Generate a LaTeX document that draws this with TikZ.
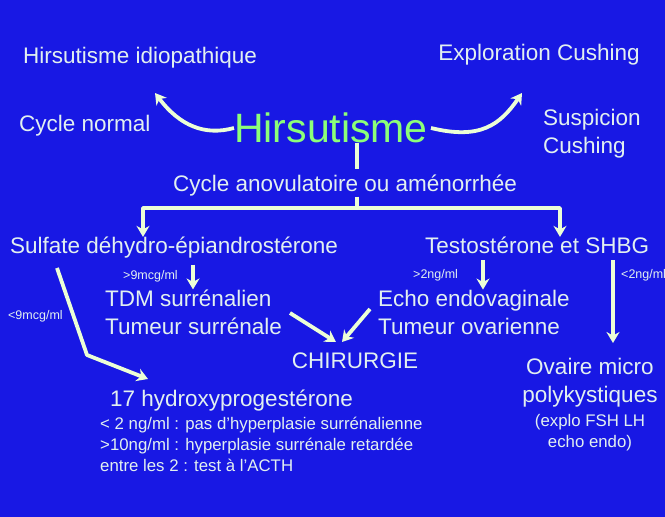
\documentclass[tikz,border=0pt]{standalone}
\usepackage{fontspec}
\setmainfont{Liberation Sans}
\usetikzlibrary{arrows.meta}
\definecolor{bg}{RGB}{24,24,228}
\definecolor{txt}{RGB}{226,240,240}
\definecolor{arr}{RGB}{236,255,214}
\definecolor{grn}{RGB}{140,255,120}
\begin{document}
\begin{tikzpicture}[x=1pt,y=-1pt,
  lbl/.style={text=txt,inner sep=0pt,font=\fontsize{22.5}{28}\selectfont},
  sml/.style={text=txt,inner sep=0pt,font=\fontsize{12.5}{14}\selectfont},
  note/.style={text=txt,inner sep=0pt,font=\fontsize{16.8}{21}\selectfont},
  con/.style={draw=arr,line width=3.8pt,line join=round,-{Stealth[length=11pt,width=13pt]}},
  bar/.style={draw=arr,line width=3.8pt}]
\fill[bg] (0,0) rectangle (665,517);
\useasboundingbox (0,0) rectangle (665,517);
% texts
\node[lbl,anchor=mid west] (idio) at (23,61) {Hirsutisme idiopathique};
\node[lbl,anchor=mid east] (expl) at (640,58) {Exploration Cushing};
\node[lbl,anchor=mid west] (cnorm) at (19,129) {Cycle normal};
\node[lbl,anchor=west,align=left] (susp) at (543,134) {Suspicion\\Cushing};
\node[text=grn,inner sep=0pt,font=\fontsize{41}{48}\selectfont,anchor=mid] (hir) at (331,140) {Hirsutisme};
\node[lbl,anchor=mid] (cyc) at (345,189) {Cycle anovulatoire ou aménorrhée};
\node[lbl,anchor=mid west] (sulf) at (10,251) {Sulfate déhydro-épiandrostérone};
\node[lbl,anchor=mid west] (testo) at (425,251) {Testostérone et SHBG};
\node[sml,anchor=mid west] (g9) at (123,277) {>9mcg/ml};
\node[sml,anchor=mid west] (l9) at (8,317) {<9mcg/ml};
\node[sml,anchor=mid west] (g2) at (413,276) {>2ng/ml};
\node[sml,anchor=mid west] (l2) at (621,276) {<2ng/ml};
\node[lbl,anchor=west,align=left] (tdm) at (105,312) {TDM surrénalien\\Tumeur surrénale};
\node[lbl,anchor=west,align=left] (echo) at (378,312) {Echo endovaginale\\Tumeur ovarienne};
\node[lbl,anchor=mid] (chir) at (355,366) {CHIRURGIE};
\node[lbl,anchor=mid west] (hydro) at (110,404) {17 hydroxyprogestérone};
\node[note,anchor=north west,align=left] (det) at (100,417) {< 2 ng/ml : pas d'hyperplasie surrénalienne\\>10ng/ml : hyperplasie surrénale retardée\\entre les 2 : test à l'ACTH};
\node[lbl,anchor=north,align=center] (ovai) at (590,358) {Ovaire micro\\polykystiques};
\node[note,anchor=north,align=center] (expf) at (590,414) {(explo FSH LH\\echo endo)};
% helper coordinates
\coordinate (lt) at (155,93);
\coordinate (rt) at (522,93);
\coordinate (vx) at (357,0);
\coordinate (jn) at (357,208);
\coordinate (xa) at (143,0);
\coordinate (xb) at (560,0);
\coordinate (x1) at (193,0);
\coordinate (x2) at (483,0);
\coordinate (x3) at (613,0);
\coordinate (s1) at (57,268);
\coordinate (bend) at (87,355);
\coordinate (h1) at (148,379);
\coordinate (t1) at (290,313);
\coordinate (t2) at (370,309);
\coordinate (c1) at (336,342);
\coordinate (c2) at (342,342);
\coordinate (o1) at (613,343);
% connectors
\draw[con] (hir.west) .. controls (205,136) and (180,126) .. (lt);
\draw[con] (hir.east) ++(3,0) .. controls (480,140) and (500,125) .. (rt);
\draw[bar,shorten >=6pt] (hir.south -| vx) -- (cyc.north -| vx);
\draw[bar] (cyc.south -| vx) -- (jn);
\draw[con] (jn) -- (jn -| xa) -- (sulf.north -| xa);
\draw[con] (jn) -- (jn -| xb) -- (testo.north -| xb);
\draw[con,shorten <=6pt] (sulf.south -| x1) -- (tdm.north -| x1);
\draw[con,shorten <=6pt] (testo.south -| x2) -- (echo.north -| x2);
\draw[con,shorten <=6pt] (testo.south -| x3) -- (o1);
\draw[con] (s1) -- (bend) -- (h1);
\draw[con] (t1) -- (c1);
\draw[con] (t2) -- (c2);
\end{tikzpicture}
\end{document}
